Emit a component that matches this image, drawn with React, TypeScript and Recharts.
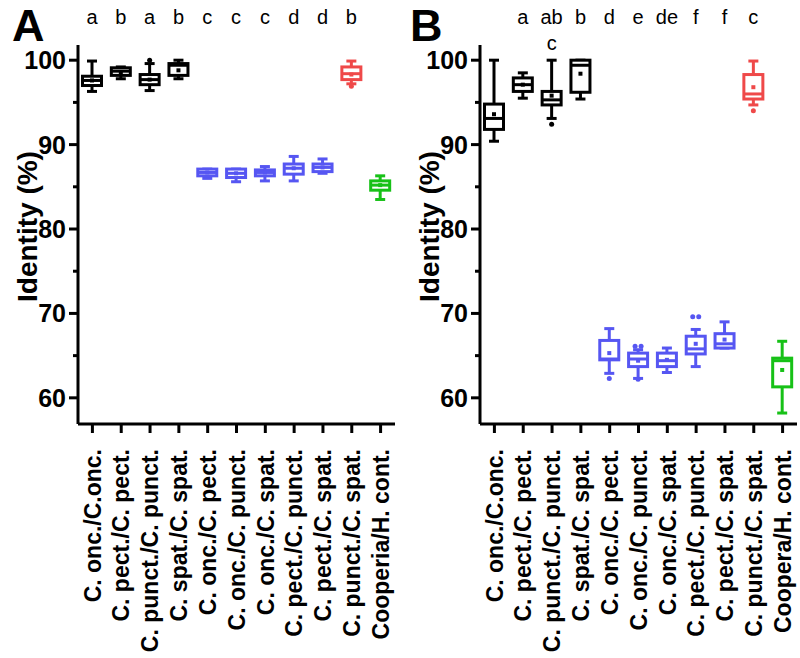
import { ComposedChart, Bar, XAxis, YAxis } from 'recharts';

const categoriesA = [
  'C. onc./C.onc.', 'C. pect./C. pect.', 'C. punct./C. punct.', 'C. spat./C. spat.',
  'C. onc./C. pect.', 'C. onc./C. punct.', 'C. onc./C. spat.', 'C. pect./C. punct.',
  'C. pect./C. spat.', 'C. punct./C. spat.', 'Cooperia/H. cont.',
];
const categoriesB = [
  'C. onc./C.onc.', 'C. pect./C. pect.', 'C. punct./C. punct.', 'C. spat./C. spat.',
  'C. onc./C. pect.', 'C. onc./C. punct.', 'C. onc./C. spat.', 'C. pect./C. punct.',
  'C. pect./C. spat.', 'C. punct./C. spat.', 'Coopera/H. cont.',
];

// panel A (identity %)
const minA = [96.3, 97.8, 96.4, 97.8, 86.0, 85.6, 85.7, 85.7, 86.6, 97.2, 83.5];
const q1A = [97.0, 98.2, 97.1, 98.2, 86.3, 86.1, 86.3, 86.5, 86.8, 97.7, 84.6];
const medianA = [97.6, 98.7, 97.7, 99.4, 86.7, 86.6, 86.7, 87.2, 87.3, 98.4, 85.2];
const q3A = [98.1, 99.1, 98.3, 99.6, 87.1, 87.1, 87.0, 87.7, 87.7, 99.2, 85.7];
const maxA = [99.9, 99.2, 99.6, 100.0, 87.1, 87.1, 87.4, 88.6, 88.3, 99.9, 86.3];
const meanA = [97.6, 98.6, 97.7, 98.8, 86.7, 86.6, 86.7, 87.2, 87.3, 98.3, 85.2];
const outliersA = [[], [], [100.0], [], [], [], [], [], [], [96.9], []];
const lettersA = ['a', 'b', 'a', 'b', 'c', 'c', 'c', 'd', 'd', 'b', ''];
const lettersA2 = ['', '', '', '', '', '', '', '', '', '', ''];
const groupsA = ['black', 'black', 'black', 'black', 'blue', 'blue', 'blue', 'blue', 'blue', 'red', 'green'];

// panel B
const minB = [90.4, 95.5, 93.1, 95.4, 62.9, 62.3, 63.0, 63.7, 65.9, 94.7, 58.2];
const q1B = [91.8, 96.3, 94.7, 96.2, 64.5, 63.7, 63.7, 65.2, 65.9, 95.4, 61.3];
const medianB = [93.1, 97.1, 95.3, 99.4, 64.6, 64.6, 64.4, 65.8, 66.4, 96.0, 64.4];
const q3B = [94.8, 97.9, 96.3, 100.0, 66.8, 65.3, 65.3, 67.3, 67.6, 98.3, 64.7];
const maxB = [100.0, 98.5, 100.0, 100.0, 68.2, 65.7, 65.9, 68.1, 69.0, 99.9, 66.7];
const meanB = [93.6, 97.1, 95.8, 98.4, 65.3, 64.4, 64.5, 66.4, 66.9, 96.8, 63.3];
const outliersB = [[], [], [92.4], [], [62.3], [66.1, 66.1, 62.2], [], [69.6, 69.6], [], [94.0], []];
const lettersB = ['', 'a', 'ab', 'b', 'd', 'e', 'de', 'f', 'f', 'c', ''];
const lettersB2 = ['', '', 'c', '', '', '', '', '', '', '', ''];
const groupsB = groupsA;

const yTicks = [60, 65, 70, 75, 80, 85, 90, 95, 100];

const palette: Record<string, string> = {
  black: '#000000',
  blue: '#5656f2',
  red: '#ef4949',
  green: '#17c117',
};

const FONT = '"Liberation Sans", Arial, sans-serif';

const buildRows = (
  cats: string[], mins: number[], q1s: number[], meds: number[], q3s: number[],
  maxs: number[], means: number[], outs: number[][], letters: string[], letters2: string[], groups: string[],
) =>
  cats.map((name, i) => {
    const all = [mins[i], maxs[i], ...outs[i]];
    return {
      name,
      range: [Math.min(...all), Math.max(...all)],
      min: mins[i], q1: q1s[i], median: meds[i], q3: q3s[i], max: maxs[i], mean: means[i],
      outliers: outs[i], letter: letters[i], letter2: letters2[i], color: palette[groups[i]],
    };
  });

const rowsA = buildRows(categoriesA, minA, q1A, medianA, q3A, maxA, meanA, outliersA, lettersA, lettersA2, groupsA);
const rowsB = buildRows(categoriesB, minB, q1B, medianB, q3B, maxB, meanB, outliersB, lettersB, lettersB2, groupsB);

const BoxShape = (props: any) => {
  const { x, y, width, height, payload } = props;
  const [lo, hi] = payload.range;
  const top = Math.min(y, y + height);
  const h = Math.abs(height);
  const py = (v: number) => (hi === lo ? top : top + ((hi - v) / (hi - lo)) * h);
  const cx = x + width / 2;
  const c = payload.color;
  const cap = 5;
  const seen: Record<string, number> = {};
  return (
    <g>
      <line x1={cx} x2={cx} y1={py(payload.max)} y2={py(payload.q3)} stroke={c} strokeWidth={3} />
      <line x1={cx} x2={cx} y1={py(payload.q1)} y2={py(payload.min)} stroke={c} strokeWidth={3} />
      <line x1={cx - cap} x2={cx + cap} y1={py(payload.max)} y2={py(payload.max)} stroke={c} strokeWidth={3} />
      <line x1={cx - cap} x2={cx + cap} y1={py(payload.min)} y2={py(payload.min)} stroke={c} strokeWidth={3} />
      <rect
        x={x + 1.5}
        y={py(payload.q3)}
        width={width - 3}
        height={Math.max(py(payload.q1) - py(payload.q3), 0.5)}
        fill="#fff"
        stroke={c}
        strokeWidth={3}
      />
      <line x1={x + 1.5} x2={x + width - 1.5} y1={py(payload.median)} y2={py(payload.median)} stroke={c} strokeWidth={3} />
      <rect x={cx - 2} y={py(payload.mean) - 2} width={4} height={4} fill={c} />
      {payload.outliers.map((v: number, k: number) => {
        const key = String(v);
        const n = seen[key] ?? 0;
        seen[key] = n + 1;
        const dup = payload.outliers.filter((o: number) => o === v).length;
        const dx = dup > 1 ? (n - (dup - 1) / 2) * 6 : 0;
        return <circle key={k} cx={cx + dx} cy={py(v)} r={2.5} fill={c} />;
      })}
      {payload.letter && (
        <text x={cx} y={24} textAnchor="middle" fontSize={20} fontFamily={FONT} fill="#000">
          {payload.letter}
        </text>
      )}
      {payload.letter2 && (
        <text x={cx} y={50} textAnchor="middle" fontSize={20} fontFamily={FONT} fill="#000">
          {payload.letter2}
        </text>
      )}
    </g>
  );
};

const XTick = (props: any) => {
  const { x, y, payload } = props;
  const ty = y + 8;
  return (
    <text
      x={x}
      y={ty}
      transform={`rotate(-90, ${x}, ${ty})`}
      textAnchor="end"
      dy="0.36em"
      fontSize={23}
      fontWeight="bold"
      fontFamily={FONT}
      fill="#000"
    >
      {payload.value}
    </text>
  );
};

const YTick = (props: any) => {
  const { x, y, payload } = props;
  const major = payload.value % 10 === 0;
  return (
    <g>
      <line x1={x - (major ? 9 : 5)} x2={x} y1={y} y2={y} stroke="#000" strokeWidth={3} />
      {major && (
        <text x={x - 12} y={y} dy="0.36em" textAnchor="end" fontSize={25} fontWeight="bold" fontFamily={FONT} fill="#000">
          {payload.value}
        </text>
      )}
    </g>
  );
};

const YTitle = (props: any) => {
  const vb = props.viewBox;
  const cx = vb.x + props.dx0;
  const cy = vb.y + vb.height / 2 - 8;
  return (
    <text
      x={cx}
      y={cy}
      transform={`rotate(-90, ${cx}, ${cy})`}
      textAnchor="middle"
      dy="0.36em"
      fontSize={28}
      fontWeight="bold"
      fontFamily={FONT}
      fill="#000"
    >
      Identity (%)
    </text>
  );
};

const Panel = ({ rows, yWidth, right, titleX }: { rows: any[]; yWidth: number; right: number; titleX: number }) => (
  <ComposedChart width={400} height={658} data={rows} margin={{ top: 45, right, bottom: 0, left: 0 }}>
    <XAxis
      dataKey="name"
      interval={0}
      height={234}
      axisLine={{ stroke: '#000', strokeWidth: 3 }}
      tickLine={{ stroke: '#000', strokeWidth: 3 }}
      tickSize={9}
      tickMargin={8}
      tick={<XTick />}
    />
    <YAxis
      type="number"
      domain={[56.9, 101.8]}
      ticks={yTicks}
      width={yWidth}
      axisLine={{ stroke: '#000', strokeWidth: 3 }}
      tickLine={false}
      tickSize={0}
      tickMargin={0}
      tick={<YTick />}
      label={(p: any) => <YTitle {...p} dx0={titleX} />}
    />
    <Bar dataKey="range" barSize={22} shape={<BoxShape />} isAnimationActive={false} />
  </ComposedChart>
);

const panelLetter = { position: 'absolute' as const, top: 0, fontSize: 45, fontWeight: 'bold' as const, lineHeight: 1.15 };

export default function App() {
  return (
    <div style={{ position: 'absolute', left: 0, top: 0, width: 800, height: 658, background: '#fff', fontFamily: FONT }}>
      <div style={{ position: 'absolute', left: 0, top: 0 }}>
        <Panel rows={rowsA} yWidth={78} right={5} titleX={27} />
      </div>
      <div style={{ position: 'absolute', left: 400, top: 0 }}>
        <Panel rows={rowsB} yWidth={80} right={3} titleX={29} />
      </div>
      <div style={{ ...panelLetter, left: 12 }}>A</div>
      <div style={{ ...panelLetter, left: 410 }}>B</div>
    </div>
  );
}
